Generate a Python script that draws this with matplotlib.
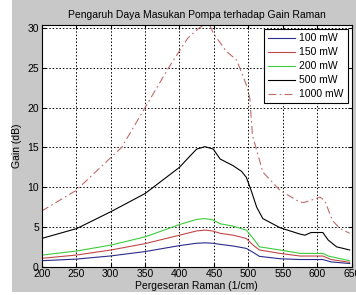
import matplotlib
matplotlib.use("Agg")
import matplotlib.pyplot as plt
from matplotlib.patches import Rectangle

plt.rcParams['font.family'] = ['Liberation Sans', 'DejaVu Sans']

# data
x_100 = [200, 250, 300, 350, 400, 425, 437, 448, 460, 478, 497, 507, 516, 546, 575, 608, 620, 647]
g_100 = [0.75, 0.95, 1.35, 1.9, 2.65, 2.95, 3.0, 2.95, 2.8, 2.6, 2.3, 1.8, 1.3, 1.0, 0.9, 0.9, 0.6, 0.4]

x_150 = [200, 250, 300, 350, 400, 425, 437, 448, 459, 478, 497, 507, 516, 546, 575, 608, 620, 647]
g_150 = [1.05, 1.46, 2.09, 2.9, 3.96, 4.5, 4.6, 4.5, 4.2, 3.96, 3.55, 2.7, 2.1, 1.67, 1.34, 1.34, 0.9, 0.55]

x_200 = [200, 250, 300, 350, 400, 425, 437, 448, 459, 478, 497, 507, 516, 546, 575, 608, 616, 647]
g_200 = [1.46, 1.96, 2.71, 3.75, 5.3, 5.95, 6.05, 5.9, 5.4, 5.1, 4.6, 3.55, 2.5, 2.1, 1.67, 1.67, 1.34, 0.75]

x_500 = [200, 251, 300, 350, 400, 415, 425, 437, 449, 459, 478, 490, 497, 504, 512, 521, 546, 575,
         582, 591, 608, 616, 628, 647]
g_500 = [3.55, 4.8, 6.9, 9.2, 12.5, 13.9, 14.8, 15.1, 14.8, 13.55, 12.7, 12.0, 11.25, 9.6, 7.5, 6.05,
         4.9, 4.1, 3.96, 4.3, 4.3, 3.34, 2.5, 2.1]

x_1000 = [200, 250, 300, 316, 350, 384, 412, 428, 437, 444, 449, 468, 483, 497, 502, 506, 521,
          546, 575, 582, 604, 611, 622, 633, 647]
g_1000 = [7.0, 9.6, 13.7, 15.0, 20.0, 25.0, 28.75, 30.0, 30.5, 30.4, 29.4, 27.1, 26.0, 22.9, 21.25,
          16.5, 11.9, 9.6, 8.1, 8.1, 8.75, 8.3, 5.8, 4.8, 4.2]

labels = ['100 mW', '150 mW', '200 mW', '500 mW', '1000 mW']

fig = plt.figure(figsize=(3.56, 2.95), dpi=100, facecolor='#c8c8c8')
# white margin left and bottom
fig.add_artist(Rectangle((0, 0), 12 / 356, 1, transform=fig.transFigure,
                         facecolor='white', edgecolor='none', zorder=0))
fig.add_artist(Rectangle((0, 0), 1, 3 / 295, transform=fig.transFigure,
                         facecolor='white', edgecolor='none', zorder=0))

ax = fig.add_axes([0.117, 0.096, 0.871, 0.819])
ax.set_facecolor('white')

ax.plot(x_100, g_100, color='#2b2b8c', lw=0.8, label=labels[0])
ax.plot(x_150, g_150, color='#c04848', lw=0.8, label=labels[1])
ax.plot(x_200, g_200, color='#3ccc3c', lw=0.8, label=labels[2])
ax.plot(x_500, g_500, color='black', lw=0.8, label=labels[3])
ax.plot(x_1000, g_1000, color='#c06a6a', lw=0.8, ls=(0, (7, 3, 1.5, 3)), label=labels[4])

ax.set_xlim(200, 650)
ax.set_ylim(0, 30.4)
ax.set_xticks(range(200, 651, 50))
ax.set_yticks(range(0, 31, 5))
ax.grid(True, color='black', ls=(0, (1.5, 2)), lw=0.7)
ax.tick_params(direction='in', top=True, right=True, length=3, labelsize=7.5, pad=2)
for s in ax.spines.values():
    s.set_linewidth(0.8)

ax.set_title('Pengaruh Daya Masukan Pompa terhadap Gain Raman', fontsize=7.5, pad=5)
ax.set_xlabel('Pergeseran Raman (1/cm)', fontsize=7.5, labelpad=1)
ax.set_ylabel('Gain (dB)', fontsize=7.5, labelpad=4)

leg = ax.legend(loc='upper right', fontsize=7.5, frameon=True, fancybox=False,
                edgecolor='black', framealpha=1, handlelength=2.6, handletextpad=0.4,
                labelspacing=0.38, borderaxespad=0.4, borderpad=0.4)
leg.get_frame().set_linewidth(0.8)

fig.savefig('out.png', dpi=100, facecolor=fig.get_facecolor())
